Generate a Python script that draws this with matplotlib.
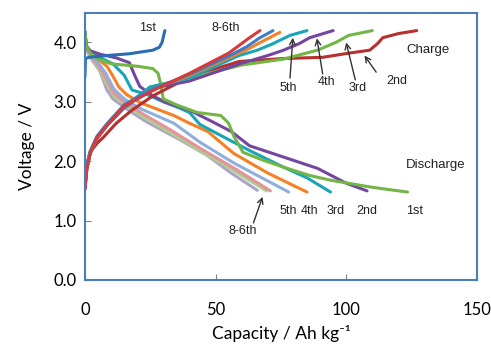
import numpy as np
import matplotlib
matplotlib.use("Agg")
import matplotlib.pyplot as plt

# charge curves (capacity in Ah/kg, voltage in V)
chg1_cap = [0, 0.2, 1.5, 8.4, 17, 26, 28.5, 29.5, 30.6]
chg1_v = [3.42, 3.73, 3.75, 3.78, 3.81, 3.87, 3.92, 4.0, 4.2]
chg2_cap = [0, 0.7, 2, 4.6, 7, 12, 18, 26, 40, 59, 76, 91, 101, 109, 112, 114, 120, 127]
chg2_v = [1.55, 1.95, 2.15, 2.30, 2.40, 2.64, 2.86, 3.1, 3.42, 3.68, 3.73, 3.75, 3.82, 3.87, 3.98, 4.08, 4.15, 4.2]
chg3_cap = [0, 0.7, 2, 4.6, 8.4, 15, 25, 40, 60, 76, 89, 96, 101, 110]
chg3_v = [1.55, 1.88, 2.13, 2.38, 2.6, 2.9, 3.25, 3.40, 3.62, 3.72, 3.87, 4.0, 4.12, 4.2]
chg4_cap = [0, 0.7, 2, 4.6, 8.4, 15, 25, 40, 60, 70, 76, 82, 86, 95]
chg4_v = [1.55, 1.88, 2.13, 2.38, 2.6, 2.9, 3.22, 3.35, 3.65, 3.78, 3.87, 3.98, 4.08, 4.2]
chg5_cap = [0, 0.7, 2, 4.6, 8.4, 15, 25, 40, 59, 66, 72, 78.5, 85]
chg5_v = [1.55, 1.9, 2.15, 2.4, 2.62, 2.92, 3.25, 3.40, 3.78, 3.87, 3.98, 4.12, 4.2]
chg6_cap = [0, 0.7, 2, 4.6, 8.4, 15, 25, 40, 55, 62, 68, 74.6]
chg6_v = [1.55, 1.9, 2.15, 2.4, 2.62, 2.93, 3.2, 3.44, 3.74, 3.88, 4.02, 4.17]
chg7_cap = [0, 0.7, 2, 4.6, 8.4, 15, 25, 40, 55, 62, 67, 72]
chg7_v = [1.55, 1.92, 2.17, 2.42, 2.63, 2.95, 3.2, 3.46, 3.77, 3.93, 4.08, 4.2]
chg8_cap = [0, 0.7, 2, 4.6, 8.4, 15, 26, 40, 55, 59, 63, 67]
chg8_v = [1.52, 1.85, 2.13, 2.40, 2.6, 2.93, 3.19, 3.48, 3.82, 3.95, 4.08, 4.2]

# discharge curves
dis1_cap = [0, 0.5, 2, 5, 10, 20, 26, 28, 29, 30, 35, 43, 52, 55, 57, 60.5, 68, 76, 86, 94, 110, 123.5]
dis1_v = [4.18, 3.95, 3.82, 3.72, 3.64, 3.6, 3.56, 3.48, 3.3, 3.05, 2.95, 2.82, 2.77, 2.64, 2.42, 2.15, 2.02, 1.9, 1.76, 1.68, 1.56, 1.48]
dis2_cap = [0, 0.5, 2, 6, 12, 17, 19, 21, 26, 31, 40, 49, 56, 63, 76, 89, 100, 108]
dis2_v = [4.18, 3.95, 3.86, 3.8, 3.74, 3.66, 3.45, 3.26, 3.1, 2.99, 2.86, 2.66, 2.5, 2.26, 2.07, 1.88, 1.63, 1.5]
dis3_cap = [0, 0.5, 2, 6, 10.7, 15, 18, 24, 30, 36, 40, 44, 51.7, 63, 76, 85, 94]
dis3_v = [4.18, 3.94, 3.84, 3.74, 3.64, 3.45, 3.2, 3.12, 3.0, 2.9, 2.82, 2.62, 2.44, 2.18, 1.9, 1.72, 1.48]
dis4_cap = [0, 0.5, 2, 5, 8.4, 10.5, 13, 16, 21, 28, 34, 40, 47, 57, 70, 85]
dis4_v = [4.18, 3.93, 3.82, 3.72, 3.6, 3.45, 3.25, 3.12, 2.99, 2.87, 2.77, 2.64, 2.5, 2.13, 1.80, 1.48]
dis5_cap = [0, 0.5, 2, 5, 8, 11, 15, 21, 34, 44, 57, 78]
dis5_v = [4.18, 3.92, 3.8, 3.66, 3.48, 3.22, 3.05, 2.89, 2.64, 2.32, 1.97, 1.48]
dis6_cap = [0, 0.5, 2, 5, 8, 11, 15, 22, 33, 44, 58, 71]
dis6_v = [4.18, 3.9, 3.78, 3.62, 3.4, 3.15, 3.0, 2.8, 2.52, 2.22, 1.86, 1.50]
dis7_cap = [0, 0.5, 2, 5, 8, 11, 15, 22, 33, 44, 57, 69.5]
dis7_v = [4.18, 3.9, 3.77, 3.58, 3.33, 3.1, 2.96, 2.75, 2.47, 2.18, 1.84, 1.50]
dis8_cap = [0, 0.5, 2, 5.7, 8.4, 10.7, 17, 23.7, 36, 46.7, 56, 66]
dis8_v = [4.18, 3.88, 3.75, 3.52, 3.2, 3.05, 2.85, 2.66, 2.37, 2.1, 1.8, 1.51]

charge = [(chg1_cap, chg1_v, '#2a6db5'), (chg2_cap, chg2_v, '#b5302f'),
          (chg3_cap, chg3_v, '#74b547'), (chg4_cap, chg4_v, '#7446a0'),
          (chg5_cap, chg5_v, '#19a5b8'), (chg6_cap, chg6_v, '#f58025'),
          (chg7_cap, chg7_v, '#3c7fc8'), (chg8_cap, chg8_v, '#d53b3b')]
discharge = [(dis8_cap, dis8_v, '#b0a0cc'), (dis7_cap, dis7_v, '#a9d18e'),
             (dis6_cap, dis6_v, '#e6929a'), (dis5_cap, dis5_v, '#8fb0dc'),
             (dis4_cap, dis4_v, '#f58025'), (dis3_cap, dis3_v, '#19a5b8'),
             (dis2_cap, dis2_v, '#7446a0'), (dis1_cap, dis1_v, '#74b547')]

fig = plt.figure(figsize=(4.91, 3.46), dpi=100)
ax = fig.add_axes([0.173, 0.191, 0.798, 0.772])

for cap, v, c in discharge:
    ax.plot(cap, v, color=c, lw=2.2, solid_capstyle='round')
for cap, v, c in charge:
    ax.plot(cap, v, color=c, lw=2.2, solid_capstyle='round')

ax.set_xlim(0, 150)
ax.set_ylim(0, 4.5)
ax.set_xticks([0, 50, 100, 150])
ax.set_yticks([0, 1, 2, 3, 4])
ax.set_yticklabels(['0.0', '1.0', '2.0', '3.0', '4.0'])
ax.tick_params(direction='in', length=4, color='#808080', labelsize=12, pad=6)
ax.tick_params(axis='x', pad=16)
for lab in ax.get_xticklabels() + ax.get_yticklabels():
    lab.set_family('Lato')
for s in ax.spines.values():
    s.set_color('#4a7ebb')
    s.set_linewidth(1.5)

ax.set_xlabel('Capacity / Ah kg⁻¹', family=['Lato', 'DejaVu Sans'], fontsize=12.5, labelpad=5)
ax.set_ylabel('Voltage / V', family='Lato', fontsize=12.5, labelpad=13)

tf = dict(family='Liberation Sans', fontsize=9, color='#222222', ha='center', va='center')
ap = dict(arrowstyle='->', lw=1.0, color='#333333', shrinkA=0, shrinkB=0)

ax.text(24, 4.25, '1st', **tf)
ax.text(54, 4.25, '8-6th', **tf)
ax.text(123, 3.87, 'Charge', family='Liberation Sans', fontsize=9.5, color='#222222', ha='left', va='center')

# charge arrows
ax.text(78, 3.24, '5th', **tf)
ax.annotate('', xy=(79.6, 4.08), xytext=(78.5, 3.40), arrowprops=ap)
ax.text(92.6, 3.33, '4th', **tf)
ax.annotate('', xy=(88.8, 4.07), xytext=(91, 3.47), arrowprops=ap)
ax.text(104.5, 3.23, '3rd', **tf)
ax.annotate('', xy=(100, 4.0), xytext=(103.5, 3.37), arrowprops=ap)
ax.text(119.4, 3.35, '2nd', **tf)
ax.annotate('', xy=(107, 3.78), xytext=(111.5, 3.50), arrowprops=ap)

# discharge labels
ax.text(123, 1.93, 'Discharge', family='Liberation Sans', fontsize=9.5, color='#222222', ha='left', va='center')
for x, s in zip([77.7, 86, 96, 108, 126], ['5th', '4th', '3rd', '2nd', '1st']):
    ax.text(x, 1.16, s, **tf)
ax.text(60.5, 0.82, '8-6th', **tf)
ax.annotate('', xy=(68, 1.40), xytext=(64.5, 0.96), arrowprops=ap)

fig.savefig('out.png', dpi=100)
